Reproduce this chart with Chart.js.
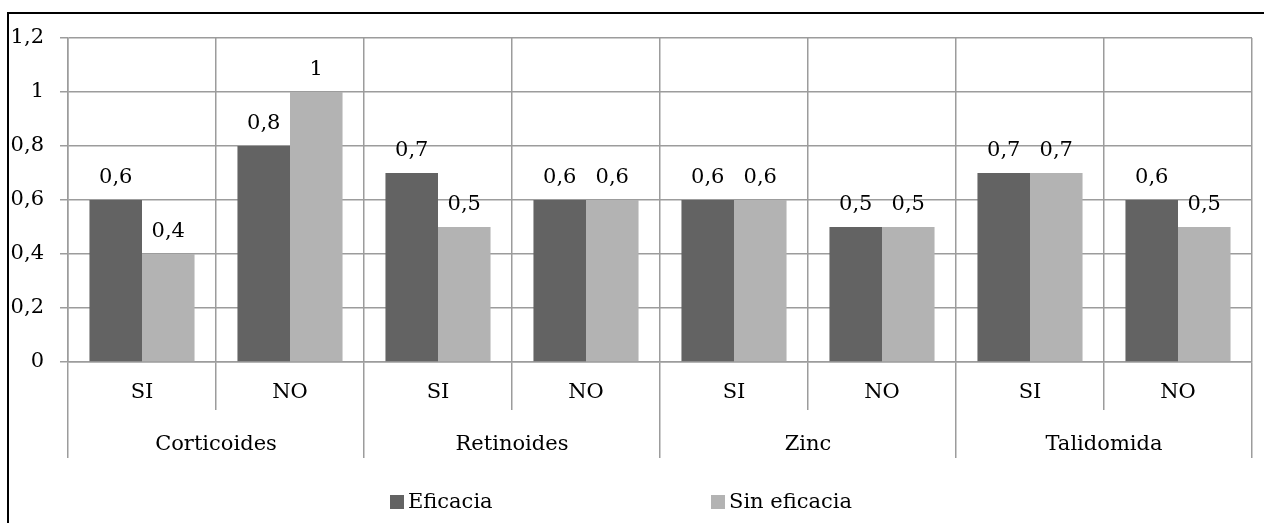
<!DOCTYPE html>
<html>
<head>
<meta charset="utf-8">
<script src="https://cdn.jsdelivr.net/npm/chart.js@4/dist/chart.umd.min.js"></script>
<style>
  body { margin: 0; background: #fff; overflow: hidden; }
  #marco { position: absolute; left: 7px; top: 12px; width: 1300px; height: 600px; border: 2px solid #000; }
  #wrap { position: absolute; left: 0; top: 0; width: 1264px; height: 523px; }
  #leyenda { position: absolute; top: 489px; left: 0; width: 1264px; height: 26px; font-family: "DejaVu Serif", serif; font-size: 21px; color: #000; }
  #leyenda span { position: absolute; white-space: nowrap; }
  #leyenda i { display: inline-block; width: 14px; height: 14px; margin-right: 4px; vertical-align: -1px; }
</style>
</head>
<body>
<div id="marco"></div>
<div id="wrap"><canvas id="grafico" width="1264" height="523"></canvas></div>
<div id="leyenda"></div>
<script>
// datos
const subcategorias = ['SI', 'NO', 'SI', 'NO', 'SI', 'NO', 'SI', 'NO'];
const tratamientos = ['Corticoides', 'Retinoides', 'Zinc', 'Talidomida'];
const eficacia = [0.6, 0.8, 0.7, 0.6, 0.6, 0.5, 0.7, 0.6];
const sinEficacia = [0.4, 1, 0.5, 0.6, 0.6, 0.5, 0.7, 0.5];
const etiquetasY = ['0', '0,2', '0,4', '0,6', '0,8', '1', '1,2'];

const fuente = "'DejaVu Serif', serif";
const tam = 21;
const gris = '#9c9c9c';

function fmt(v) {
    return String(v).replace('.', ',');
}

// etiquetas encima de cada barra
const etiquetasBarras = {
    id: 'etiquetasBarras',
    afterDatasetsDraw(chart) {
        const ctx = chart.ctx;
        ctx.save();
        ctx.font = tam + 'px ' + fuente;
        ctx.fillStyle = '#000';
        ctx.textAlign = 'center';
        ctx.textBaseline = 'alphabetic';
        chart.data.datasets.forEach(function (ds, i) {
            chart.getDatasetMeta(i).data.forEach(function (bar, j) {
                ctx.fillText(fmt(ds.data[j]), bar.x, bar.y - 17);
            });
        });
        ctx.restore();
    }
};

const ctx = document.getElementById('grafico');
const grafico = new Chart(ctx, {
    type: 'bar',
    data: {
        labels: subcategorias,
        datasets: [{
            label: 'Eficacia',
            data: eficacia,
            backgroundColor: '#636363',
            categoryPercentage: 0.71,
            barPercentage: 1
        }, {
            label: 'Sin eficacia',
            data: sinEficacia,
            backgroundColor: '#b3b3b3',
            categoryPercentage: 0.71,
            barPercentage: 1
        }]
    },
    options: {
        responsive: false,
        animation: false,
        layout: { padding: { left: 0, right: 12, top: 38, bottom: 65 } },
        plugins: {
            legend: { display: false },
            tooltip: { enabled: false }
        },
        scales: {
            y: {
                min: 0,
                max: 1.2,
                ticks: {
                    stepSize: 0.2,
                    padding: 16,
                    color: '#000',
                    font: { family: fuente, size: tam },
                    callback: function (v, i) { return etiquetasY[i]; }
                },
                grid: { color: gris, lineWidth: 1.5, tickLength: 8 },
                border: { color: gris, width: 1.5 },
                afterFit: function (s) { s.width = 68; }
            },
            x: {
                grid: { offset: true, color: gris, lineWidth: 1.5, tickLength: 48 },
                border: { color: gris, width: 1.5 },
                ticks: {
                    padding: -30,
                    color: '#000',
                    font: { family: fuente, size: tam }
                },
                afterFit: function (s) { s.height = 48; }
            },
            x2: {
                type: 'category',
                position: 'bottom',
                labels: tratamientos,
                grid: { offset: true, color: gris, lineWidth: 1.5, tickLength: 48, drawOnChartArea: false },
                border: { display: false },
                ticks: {
                    padding: -26,
                    color: '#000',
                    font: { family: fuente, size: tam }
                },
                afterFit: function (s) { s.height = 48; }
            }
        }
    },
    plugins: [etiquetasBarras]
});

// leyenda al pie
const leyenda = document.getElementById('leyenda');
const posLeyenda = [390, 711];
grafico.data.datasets.forEach(function (ds, i) {
    const s = document.createElement('span');
    s.style.left = posLeyenda[i] + 'px';
    s.innerHTML = '<i style="background:' + ds.backgroundColor + '"></i>' + ds.label;
    leyenda.appendChild(s);
});
</script>
</body>
</html>
